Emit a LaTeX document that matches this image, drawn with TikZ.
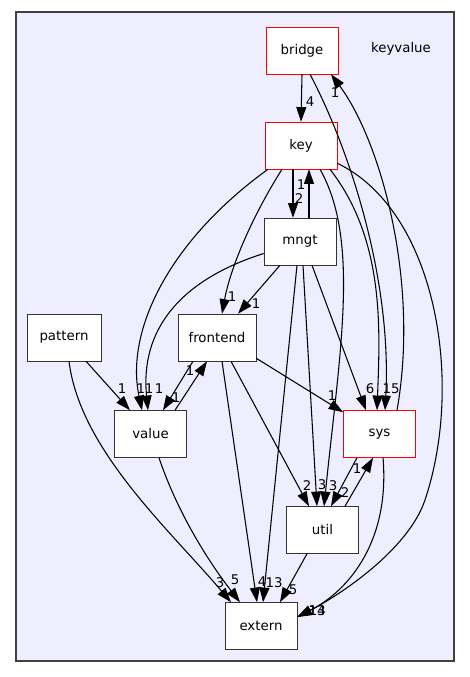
\documentclass[tikz,border=0pt]{standalone}
\usepackage{fontspec}
\setmainfont{DejaVu Sans}
\usetikzlibrary{arrows.meta}
\usetikzlibrary{calc}
\usetikzlibrary{positioning}

\definecolor{clusterfill}{HTML}{EEEEFF}
\definecolor{clusterline}{HTML}{404040}

\begin{document}
\begin{tikzpicture}[x=0.75pt,y=-0.75pt]
			\tikzset{dirbox/.style = {shape=rectangle,draw=black!80,fill=white,
					minimum width=54pt,minimum height=35.25pt,
					inner sep = 0pt,font=\fontsize{10}{12}\selectfont}}
			\tikzset{dirred/.style = {dirbox,draw=red}}
			\tikzset{edge/.style = {-{Triangle[length=11pt,width=7.5pt]}, line width=0.8pt}}
			\tikzset{lbl/.style = {inner sep=0pt,font=\fontsize{10}{12}\selectfont}}

			\useasboundingbox (0,0) rectangle (469,677);
			\draw[fill=clusterfill,draw=clusterline,line width=0.8pt] (16,12) rectangle (454,661);

			% directories
			\node[dirred] (bridge) at (302,50.5) {bridge};
			\node[dirred] (key) at (301,145.5) {key};
			\node[dirbox] (mngt) at (300,241.5) {mngt};
			\node[dirbox,minimum width=55.5pt] (pattern) at (64,337.5) {pattern};
			\node[dirbox,minimum width=58.5pt] (frontend) at (217,337.5) {frontend};
			\node[dirbox] (value) at (150.5,434) {value};
			\node[dirred] (sys) at (379.5,434) {sys};
			\node[dirbox] (util) at (322.5,530) {util};
			\node[dirbox] (extern) at (261,626) {extern};

			\node[lbl] (keyvalue) at (401,49) {keyvalue};

			%edges

			\draw[edge] (bridge.south) to (key.north);
			\draw[edge] ($(bridge.south)+(8,0)$) .. controls (350,150) and (392,280) .. ($(sys.north)+(5.5,0)$);
			\draw[edge] ($(sys.north)+(17.5,0)$) .. controls (420,280) and (380,140) .. ($(bridge.south)+(29,0)$);

			\draw[edge] ($(key.south)+(-8,0)$) to ($(mngt.north)+(-7,0)$);
			\draw[edge] ($(mngt.north)+(9,0)$) to ($(key.south)+(8,0)$);
			\draw[edge] ($(key.south)+(-33,0)$) .. controls (170,240) and (125,330) .. ($(value.north)+(-8.5,0)$);
			\draw[edge] ($(key.south)+(-19,0)$) .. controls (250,220) and (230,270) .. ($(frontend.north)+(5,0)$);
			\draw[edge] ($(key.south)+(19,0)$) .. controls (360,240) and (340,350) .. ($(util.north)+(1.5,0)$);
			\draw[edge] ($(key.south)+(29,0)$) .. controls (385,240) and (380,330) .. ($(sys.north)+(-2.5,0)$);
			\draw[edge] ($(key.south east)+(0,-6)$) .. controls (435,210) and (465,380) .. (425,500)
				.. controls (408,550) and (340,595) .. ($(extern.east)+(0,-9)$);

			\draw[edge] ($(mngt.west)+(0,12)$) .. controls (180,280) and (140,330) .. ($(value.north)+(-2.5,0)$);
			\draw[edge] ($(mngt.south)+(-20,0)$) to ($(frontend.north)+(21,0)$);
			\draw[edge] ($(mngt.south)+(3,0)$) to ($(util.north)+(-5.5,0)$);
			\draw[edge] ($(mngt.south)+(-3,0)$) to ($(extern.north)+(2,0)$);
			\draw[edge] ($(mngt.south)+(12,0)$) to ($(sys.north)+(-13.5,0)$);

			\draw[edge] ($(frontend.south east)+(0,-3)$) to ($(sys.north west)+(0,2)$);
			\draw[edge] ($(frontend.south)+(14,0)$) to ($(util.north)+(-13.5,0)$);
			\draw[edge] ($(frontend.south)+(5,0)$) to ($(extern.north)+(-4,0)$);
			\draw[edge] ($(frontend.south)+(-24,0)$) to ($(value.north)+(12.5,0)$);
			\draw[edge] ($(value.north)+(24.5,0)$) to ($(frontend.south)+(-10,0)$);

			\draw[edge] ($(pattern.south)+(22,0)$) to ($(value.north)+(-20.5,0)$);
			\draw[edge] ($(pattern.south)+(5,0)$) .. controls (80,450) and (170,530) .. ($(extern.north)+(-30,0)$);
			\draw[edge] ($(value.south)+(8.5,0)$) .. controls (180,520) and (215,570) .. ($(extern.north)+(-21,0)$);

			\draw[edge] ($(util.south)+(-15.5,0)$) to ($(extern.north)+(19,0)$);
			\draw[edge] ($(sys.south)+(-22.5,0)$) to ($(util.north)+(8.5,0)$);
			\draw[edge] ($(util.north)+(22.5,0)$) to ($(sys.south)+(-6.5,0)$);
			\draw[edge] ($(sys.south)+(3.5,0)$) .. controls (390,540) and (350,590) .. ($(extern.east)+(0,-9)$);

			% edge labels
			\node[lbl] (l-bridge-key) at (310,102) {4};
			\node[lbl] (l-sys-bridge) at (335,93) {1};
			\node[lbl] (l-mngt-key) at (301,185) {1};
			\node[lbl] (l-key-mngt) at (299,199) {2};
			\node[lbl] (l-key-frontend) at (232,297) {1};
			\node[lbl] (l-mngt-frontend) at (256,304) {1};
			\node[lbl] (l-pattern-value) at (122,389) {1};
			\node[lbl] (l-key-value) at (145,389) {11};
			\node[lbl] (l-mngt-value) at (159,389) {1};
			\node[lbl] (l-frontend-value) at (176,398) {1};
			\node[lbl] (l-value-frontend) at (190,371) {1};
			\node[lbl] (l-frontend-sys) at (332,396) {1};
			\node[lbl] (l-mngt-sys) at (370,389) {6};
			\node[lbl] (l-key-sys) at (391,389) {15};
			\node[lbl] (l-frontend-util) at (307,486) {2};
			\node[lbl] (l-mngt-util) at (322,485) {3};
			\node[lbl] (l-key-util) at (333,486) {3};
			\node[lbl] (l-sys-util) at (345,493) {2};
			\node[lbl] (l-util-sys) at (357,469) {1};
			\node[lbl] (l-pattern-extern) at (220,583) {3};
			\node[lbl] (l-value-extern) at (235,580) {5};
			\node[lbl] (l-frontend-extern) at (262,582) {4};
			\node[lbl] (l-mngt-extern) at (274,583) {13};
			\node[lbl] (l-util-extern) at (293,590) {5};
			\node[lbl] (l-key-extern) at (317,611) {14};
			\node[lbl] (l-sys-extern) at (317,611) {13};

			\end{tikzpicture}
\end{document}
